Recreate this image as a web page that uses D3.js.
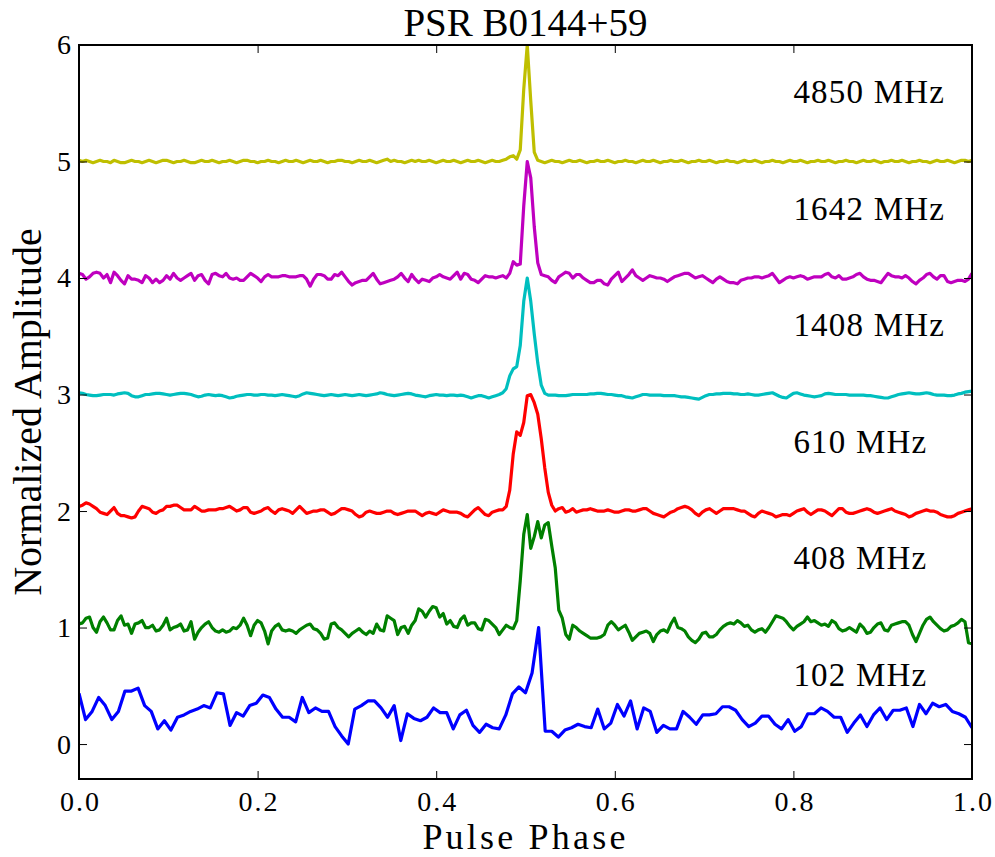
<!DOCTYPE html>
<html>
<head>
<meta charset="utf-8">
<script src="https://cdn.jsdelivr.net/npm/d3@7"></script>
<style>
  body { margin: 0; background: #fff; }
  svg text { font-family: "Liberation Serif", "Times New Roman", serif; fill: #000; }
</style>
</head>
<body>
<figure style="margin:0"></figure>
<script>
const figure = document.querySelector('figure')

// frequencies, offsets and colours, bottom to top
const labels  = ["102 MHz", "408 MHz", "610 MHz", "1408 MHz", "1642 MHz", "4850 MHz"]
const offsets = [0, 1, 2, 3, 4, 5]
const colors  = ["#0000ff", "#008000", "#ff0000", "#00bfbf", "#bf00bf", "#bfbf00"]
const xTicks  = [0, 0.2, 0.4, 0.6, 0.8, 1.0]
const yTicks  = [0, 1, 2, 3, 4, 5, 6]

// normalized profiles (amplitude above each offset), evenly spaced in phase 0..1
const p102 = [0.435,0.21,0.28,0.40,0.33,0.21,0.28,0.455,0.455,0.48,
  0.33,0.28,0.13,0.20,0.12,0.23,0.25,0.28,0.30,0.33,
  0.31,0.44,0.43,0.16,0.27,0.24,0.33,0.35,0.42,0.40,
  0.30,0.23,0.23,0.19,0.40,0.27,0.31,0.28,0.28,0.15,
  0.07,0.00,0.30,0.33,0.37,0.37,0.31,0.23,0.33,0.03,
  0.26,0.22,0.20,0.23,0.31,0.27,0.27,0.13,0.25,0.29,
  0.16,0.10,0.17,0.14,0.13,0.25,0.43,0.49,0.44,0.61,
  1.00,0.11,0.11,0.06,0.12,0.14,0.17,0.15,0.14,0.30,
  0.13,0.18,0.34,0.24,0.37,0.13,0.31,0.28,0.10,0.16,
  0.13,0.13,0.28,0.23,0.17,0.25,0.25,0.26,0.32,0.32,
  0.29,0.21,0.15,0.18,0.24,0.24,0.17,0.13,0.21,0.11,
  0.15,0.26,0.26,0.31,0.28,0.23,0.23,0.10,0.18,0.25,
  0.15,0.25,0.31,0.21,0.29,0.29,0.31,0.15,0.34,0.26,
  0.35,0.32,0.34,0.28,0.26,0.23,0.14]

const p408 = [0.03,0.04,0.08,0.09,0.0,-0.04,0.05,0.09,0.04,-0.02,
  -0.02,0.06,0.10,0.02,0.03,-0.05,0.03,0.04,0.06,0.0,
  0.0,0.02,-0.03,-0.02,0.02,0.08,-0.02,0.0,0.01,0.03,
  -0.03,-0.02,0.05,-0.10,-0.04,0.0,0.03,0.05,0.0,-0.03,
  -0.04,-0.02,-0.04,-0.03,0.0,-0.01,0.02,0.08,0.02,-0.07,
  0.02,0.06,0.04,-0.03,-0.14,-0.03,0.01,0.03,-0.02,-0.03,
  -0.02,-0.03,-0.05,-0.02,0.0,0.02,0.03,-0.01,-0.02,-0.05,
  -0.10,-0.09,0.03,0.04,0.0,-0.02,-0.05,-0.08,-0.05,-0.03,
  -0.01,-0.04,-0.06,-0.03,-0.05,0.03,-0.02,-0.03,0.10,0.08,
  0.06,-0.06,0.0,0.01,-0.05,0.02,0.06,0.16,0.14,0.09,
  0.14,0.18,0.17,0.09,0.12,0.03,0.06,0.01,0.0,0.07,
  0.10,0.02,0.04,0.04,-0.01,-0.02,0.07,0.06,0.03,0.0,
  -0.06,-0.02,0.02,0.0,-0.01,0.06,0.40,0.80,0.97,0.68,
  0.78,0.91,0.77,0.88,0.90,0.70,0.51,0.15,0.08,-0.06,
  -0.10,0.02,0.0,-0.03,-0.05,-0.07,-0.09,-0.09,-0.09,-0.08,
  -0.06,0.02,0.05,0.02,-0.02,0.0,0.02,-0.04,-0.11,-0.08,
  -0.05,-0.04,-0.03,-0.05,-0.12,-0.06,-0.03,-0.02,-0.04,0.03,
  0.08,0.0,-0.01,-0.03,-0.08,-0.11,-0.13,-0.10,-0.05,-0.04,
  -0.08,-0.08,-0.06,-0.02,0.01,0.03,0.04,0.03,0.06,0.04,
  0.01,0.02,-0.02,-0.04,-0.02,-0.01,-0.04,0.0,0.05,0.10,
  0.09,0.08,0.05,0.01,-0.02,0.01,0.03,0.05,0.09,0.05,
  0.06,0.04,0.02,0.03,0.01,0.06,0.04,-0.01,-0.03,-0.02,
  0.0,-0.02,-0.04,0.03,0.0,-0.05,-0.04,0.0,0.03,0.04,
  -0.02,-0.03,0.02,0.03,0.04,0.05,0.05,0.02,-0.06,-0.12,
  -0.05,0.02,0.07,0.09,0.05,0.02,-0.01,-0.03,-0.02,0.01,
  0.02,0.04,0.07,0.05,-0.13,-0.14]

const p610 = [0.04,0.05,0.07,0.06,0.04,0.02,-0.01,-0.02,-0.03,0.0,
  0.03,-0.02,-0.04,-0.04,-0.05,-0.06,-0.05,0.0,0.04,0.03,
  0.02,-0.01,-0.02,0.0,0.01,0.04,0.04,0.05,0.05,0.03,
  0.01,0.01,0.01,0.04,0.02,0.0,0.0,0.01,0.01,0.01,
  0.02,0.02,0.03,0.04,0.02,0.0,0.01,0.03,0.03,-0.01,
  -0.02,-0.01,0.0,0.02,0.03,0.0,-0.02,0.01,0.02,0.01,
  0.0,-0.02,0.01,0.04,0.01,-0.02,-0.01,0.0,0.0,0.01,
  0.01,-0.01,-0.03,-0.02,0.0,0.02,0.02,0.01,0.0,-0.03,
  -0.05,-0.04,-0.01,0.0,-0.01,-0.02,-0.02,-0.01,0.0,0.0,
  -0.02,-0.03,-0.02,-0.01,0.0,0.0,0.0,-0.02,-0.04,-0.02,
  -0.01,-0.02,-0.03,-0.01,0.01,0.0,-0.01,-0.01,-0.01,-0.02,
  -0.04,-0.05,-0.02,0.01,0.03,0.0,-0.03,-0.04,-0.01,0.0,
  0.01,0.01,0.04,0.18,0.49,0.68,0.65,0.76,0.99,1.00,
  0.93,0.83,0.62,0.37,0.16,0.05,0.0,0.02,0.03,-0.01,
  0.0,0.02,-0.01,0.0,0.01,0.01,0.02,0.01,0.0,0.0,
  0.0,0.01,0.0,-0.01,-0.01,0.0,0.01,0.01,0.0,0.0,
  0.01,0.02,0.02,0.0,-0.02,-0.03,-0.04,-0.05,-0.03,-0.01,
  0.0,0.02,0.03,0.04,0.03,0.01,-0.02,-0.04,-0.01,0.01,
  0.02,0.0,-0.02,0.0,0.02,0.02,0.02,0.02,0.01,0.0,
  0.0,-0.02,-0.04,-0.05,-0.02,0.0,-0.01,-0.02,-0.03,-0.05,
  -0.04,-0.03,-0.03,-0.04,-0.02,0.0,0.01,0.02,-0.01,-0.03,
  -0.01,0.01,0.01,0.0,-0.02,-0.04,-0.01,0.02,0.02,-0.01,
  -0.02,-0.02,-0.01,0.0,0.01,0.02,0.01,-0.01,-0.02,-0.01,
  0.0,0.01,0.02,0.0,-0.01,-0.02,-0.03,-0.05,-0.04,-0.02,
  -0.01,0.0,0.01,0.0,0.0,-0.01,-0.03,-0.04,-0.05,-0.05,
  -0.04,-0.02,-0.01,0.0,0.01,0.02]

const p1408 = [0.015,0.01,0.0,-0.005,-0.01,-0.01,-0.005,0.0,0.0,0.0,
  -0.005,0.005,0.01,0.015,0.01,-0.01,-0.02,-0.02,-0.01,0.0,
  0.0,0.005,0.01,0.01,0.005,0.0,-0.005,0.0,0.005,0.01,
  0.01,0.005,0.0,-0.01,-0.02,-0.015,-0.005,0.0,-0.005,-0.01,
  -0.005,-0.01,-0.02,-0.03,-0.025,-0.015,-0.01,-0.005,0.0,0.0,
  -0.005,-0.005,0.0,0.0,-0.005,-0.005,-0.01,-0.005,0.0,-0.005,
  -0.01,-0.015,-0.02,-0.01,0.005,0.015,0.01,0.005,0.0,-0.005,
  -0.01,-0.005,0.0,-0.005,-0.01,-0.005,0.0,-0.005,-0.01,-0.005,
  0.0,-0.005,-0.01,-0.005,0.0,0.005,0.015,0.01,0.0,-0.005,
  -0.01,-0.005,0.0,0.005,0.01,0.005,-0.005,-0.01,-0.015,-0.02,
  -0.01,-0.005,0.0,-0.005,-0.005,-0.01,-0.005,-0.005,-0.01,-0.005,
  -0.01,-0.02,-0.03,-0.02,-0.01,-0.01,-0.02,-0.03,-0.02,-0.01,
  0.0,0.015,0.05,0.16,0.22,0.24,0.42,0.80,1.00,0.80,
  0.52,0.27,0.08,0.01,-0.005,-0.005,-0.005,-0.01,-0.01,-0.01,
  -0.005,0.0,0.0,0.0,0.0,0.0,0.005,0.005,0.01,0.01,
  0.005,0.0,0.0,-0.005,-0.01,-0.01,-0.02,-0.025,-0.03,-0.02,
  -0.01,0.0,0.0,-0.005,-0.005,-0.005,-0.005,-0.01,-0.01,-0.01,
  -0.01,-0.015,-0.02,-0.02,-0.025,-0.03,-0.035,-0.04,-0.025,-0.01,
  0.0,0.0,0.005,0.005,0.01,0.01,0.01,0.005,0.005,0.0,
  0.0,0.005,0.0,-0.005,-0.005,0.0,0.005,0.01,0.015,0.0,
  -0.015,-0.025,-0.03,-0.01,0.01,0.015,0.005,-0.005,-0.01,-0.015,
  -0.02,-0.015,-0.01,0.005,0.01,0.005,0.0,0.0,0.0,0.0,
  -0.005,-0.005,-0.005,-0.005,-0.005,-0.01,-0.01,-0.015,-0.02,-0.025,
  -0.03,-0.03,-0.02,-0.01,0.0,0.005,0.01,0.015,0.01,0.005,
  0.005,0.01,0.015,0.01,0.0,-0.005,-0.005,-0.005,-0.01,-0.01,
  -0.005,0.005,0.01,0.02,0.025,0.03]

const p1642 = [0.04,0.03,-0.01,0.01,0.04,0.05,0.04,0.0,0.03,-0.04,
  0.05,0.02,-0.02,-0.05,0.02,-0.01,-0.01,-0.02,-0.04,0.02,
  0.0,-0.04,-0.01,-0.04,-0.02,0.02,-0.01,0.04,0.0,-0.02,
  0.0,0.02,0.04,-0.02,0.02,0.03,-0.02,-0.05,0.03,0.04,
  0.02,0.01,0.04,0.0,-0.01,0.0,-0.02,-0.02,0.01,0.04,
  0.02,0.0,-0.03,0.01,0.03,0.01,0.01,0.01,0.02,0.02,
  0.01,0.01,0.01,0.02,0.02,-0.01,-0.07,-0.01,0.03,0.03,
  0.02,-0.01,-0.01,0.03,0.02,0.05,0.01,-0.03,-0.06,-0.04,
  -0.03,-0.02,-0.02,0.01,0.04,-0.01,-0.05,-0.04,-0.03,-0.02,
  -0.01,0.01,0.04,0.0,-0.03,0.03,-0.01,-0.04,-0.01,-0.02,
  -0.03,0.0,0.01,0.03,0.01,0.0,-0.01,0.02,0.05,-0.01,
  0.04,0.03,-0.01,-0.02,-0.04,-0.01,0.02,0.01,0.01,0.0,
  0.01,0.02,0.0,0.04,0.14,0.11,0.12,0.62,1.00,0.86,
  0.44,0.13,0.03,0.02,0.01,-0.02,-0.04,0.01,0.03,0.05,
  0.04,0.0,0.03,0.03,0.0,-0.02,-0.04,-0.04,-0.02,-0.02,
  -0.05,-0.06,-0.01,0.02,0.05,-0.03,0.0,0.03,0.07,0.02,
  0.0,-0.02,0.0,0.02,0.01,0.0,0.0,-0.01,-0.03,-0.01,
  0.01,0.02,0.03,0.04,0.04,0.02,0.0,0.01,0.02,0.0,
  -0.02,-0.04,-0.01,0.01,-0.01,-0.03,-0.04,-0.04,-0.05,-0.02,
  -0.01,0.0,0.0,0.01,0.01,0.0,0.01,0.02,0.04,0.0,
  -0.04,-0.02,0.0,0.01,0.0,0.01,0.02,0.01,-0.01,0.0,
  0.01,0.01,0.01,0.03,0.04,0.01,0.0,0.02,-0.01,-0.01,
  0.0,0.01,0.03,0.04,0.01,-0.01,-0.02,-0.02,-0.03,-0.04,
  0.0,0.04,0.02,0.01,0.01,0.0,0.02,0.0,-0.03,-0.05,
  -0.02,0.0,0.03,0.04,0.01,-0.01,0.02,0.02,-0.03,-0.04,
  -0.03,-0.02,-0.02,-0.03,-0.01,0.04]

const p4850 = [0.01,0.0,0.01,0.0,-0.01,0.0,0.01,0.0,0.0,-0.01,0.01,0.0,-0.01,-0.01,0.0,0.01,0.0,0.0,-0.01,0.0,
  0.01,0.0,-0.01,0.0,0.01,0.01,0.0,-0.01,0.0,0.0,0.01,0.0,-0.01,-0.01,0.0,0.01,0.0,0.0,0.01,0.0,
  -0.01,0.0,0.0,0.01,0.0,-0.01,0.0,0.01,0.01,0.0,0.0,-0.01,0.0,0.0,0.01,0.0,0.0,-0.01,0.0,0.01,
  0.0,0.0,0.01,0.0,-0.01,0.0,0.01,0.0,0.0,0.01,0.0,-0.01,0.0,0.0,0.01,0.01,0.0,0.0,-0.01,0.0,
  0.01,0.0,0.0,0.01,0.0,-0.01,0.0,0.01,0.02,0.0,0.01,0.0,0.0,-0.01,0.0,0.01,0.0,0.01,0.0,0.0,
  0.01,0.0,-0.01,0.0,0.01,0.0,0.0,0.01,0.0,-0.01,0.0,0.01,0.0,0.0,0.01,0.0,-0.01,0.0,0.01,0.0,
  0.0,0.01,0.02,0.04,0.05,0.02,0.10,0.62,1.00,0.52,0.08,0.01,
  0.0,-0.01,0.0,0.01,0.0,0.0,-0.01,0.0,0.01,0.0,0.0,0.01,0.0,-0.01,0.0,0.0,0.01,0.0,0.0,0.01,
  0.0,-0.01,0.0,0.0,0.01,0.0,0.0,-0.01,0.0,0.01,0.0,0.0,0.01,0.0,-0.01,0.0,0.0,0.01,0.0,0.0,
  0.01,0.0,-0.01,0.0,0.0,0.01,0.0,0.0,0.01,0.0,-0.01,0.0,0.0,0.01,0.0,0.0,-0.01,0.0,0.01,0.0,
  0.0,0.01,0.0,-0.01,0.0,0.0,0.01,0.0,0.0,-0.01,0.0,0.01,0.0,0.0,0.01,0.0,-0.01,0.0,0.0,0.01,
  0.0,0.0,0.01,0.0,-0.01,0.0,0.0,0.01,0.0,0.0,-0.01,0.0,0.01,0.0,0.0,0.01,0.0,-0.01,0.0,0.0,
  0.01,0.0,0.0,0.01,0.0,-0.01,0.0,0.0,0.01,0.0,0.0,-0.01,0.0,0.01,0.0,0.0,0.01,0.0,-0.01,0.0,0.01,0.01,0.0,0.01]

const profiles = [p102, p408, p610, p1408, p1642, p4850]

var svg = d3.select(figure).append("svg").attr("width", 995).attr("height", 857),
    margin = {top: 45, right: 23, bottom: 78, left: 79},
    width  = +svg.attr("width") - margin.left - margin.right,
    height = +svg.attr("height") - margin.top - margin.bottom,
    g = svg.append("g").attr("transform", "translate(" + margin.left + "," + margin.top + ")");

var x = d3.scaleLinear().domain([0, 1]).range([0, width]);
var y = d3.scaleLinear().domain([-0.3, 6]).range([height, 0]);

g.append("defs").append("clipPath")
    .attr("id", "clip")
  .append("rect")
    .attr("width", width)
    .attr("height", height);

var lines = g.append("g").attr("clip-path", "url(#clip)");
profiles.forEach(function(p, k) {
  var line = d3.line()
      .x(function(d, i) { return x(i / (p.length - 1)); })
      .y(function(d) { return y(d + offsets[k]); });
  lines.append("path")
      .datum(p)
      .attr("fill", "none")
      .attr("stroke", colors[k])
      .attr("stroke-width", 3.2)
      .attr("stroke-linejoin", "round")
      .attr("d", line);
});

// labels for each trace
g.selectAll(".freq")
    .data(labels)
  .enter().append("text")
    .attr("class", "freq")
    .attr("x", x(0.8))
    .attr("y", function(d, k) { return y(offsets[k] + 0.5); })
    .style("font-size", "33px")
    .style("letter-spacing", "1.2px")
    .text(function(d) { return d; });

// axes, ticks pointing inward on all four sides
function styleAxis(sel) {
  sel.select(".domain").remove();
  sel.selectAll(".tick line").attr("stroke", "#000").attr("stroke-width", 1);
  sel.selectAll(".tick text").style("font-family", null).style("font-size", "28px").attr("fill", "#000");
}

g.append("g")
    .attr("transform", "translate(0," + height + ")")
    .call(d3.axisBottom(x).tickValues(xTicks).tickFormat(d3.format(".1f")).tickSizeInner(-8).tickSizeOuter(0).tickPadding(12))
    .call(styleAxis)
    .selectAll(".tick text").style("letter-spacing", "2px").attr("dx", "1px");
g.append("g")
    .call(d3.axisTop(x).tickValues(xTicks).tickFormat("").tickSizeInner(-8).tickSizeOuter(0))
    .call(styleAxis);
g.append("g")
    .call(d3.axisLeft(y).tickValues(yTicks).tickFormat(d3.format("d")).tickSizeInner(-8).tickSizeOuter(0).tickPadding(8))
    .call(styleAxis);
g.append("g")
    .attr("transform", "translate(" + width + ",0)")
    .call(d3.axisRight(y).tickValues(yTicks).tickFormat("").tickSizeInner(-8).tickSizeOuter(0))
    .call(styleAxis);

g.append("rect")
    .attr("width", width)
    .attr("height", height)
    .attr("fill", "none")
    .attr("stroke", "#000")
    .attr("stroke-width", 2);

svg.append("text")
    .attr("x", margin.left + width / 2)
    .attr("y", 36)
    .attr("text-anchor", "middle")
    .style("font-size", "39px")
    .text("PSR B0144+59");

svg.append("text")
    .attr("x", margin.left + width / 2)
    .attr("y", 849)
    .attr("text-anchor", "middle")
    .style("font-size", "36px")
    .style("letter-spacing", "3.2px")
    .text("Pulse Phase");

svg.append("text")
    .attr("transform", "translate(41," + (margin.top + height / 2) + ") rotate(-90)")
    .attr("text-anchor", "middle")
    .style("font-size", "40px")
    .text("Normalized Amplitude");
</script>
</body>
</html>
